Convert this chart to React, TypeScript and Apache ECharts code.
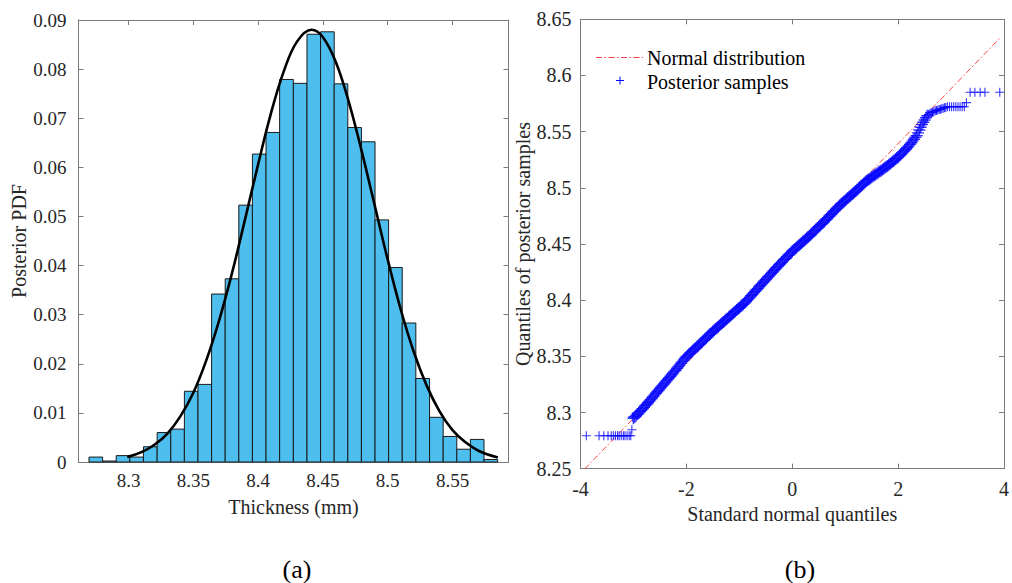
import React, { useEffect, useRef } from "react";
import * as echarts from "echarts";

// ---------- Panel (a): histogram of posterior samples ----------
const binEdges = [
  8.2695, 8.28, 8.2905, 8.301, 8.3115, 8.3221, 8.3326, 8.3431, 8.3536, 8.3641,
  8.3746, 8.3851, 8.3956, 8.4061, 8.4166, 8.4272, 8.4377, 8.4482, 8.4587, 8.4692,
  8.4797, 8.4902, 8.5007, 8.5112, 8.5217, 8.5323, 8.5428, 8.5533, 8.5638, 8.5743,
  8.5848,
];
const binValues = [
  0.001, 0.0002, 0.0013, 0.001, 0.0031, 0.006, 0.0067, 0.0144, 0.0158, 0.0342,
  0.0373, 0.0523, 0.0627, 0.0671, 0.0779, 0.0771, 0.0871, 0.0876, 0.077, 0.0681,
  0.0652, 0.0493, 0.0396, 0.0283, 0.017, 0.0091, 0.0052, 0.0026, 0.0046, 0.0005,
];
const fitX = [
  8.299, 8.31, 8.32, 8.33, 8.34, 8.35, 8.36, 8.37, 8.38, 8.39, 8.4, 8.41, 8.42,
  8.43, 8.4412, 8.45, 8.46, 8.47, 8.48, 8.49, 8.5, 8.51, 8.52, 8.53, 8.54, 8.55,
  8.56, 8.57, 8.585,
];
const fitY = [
  0.001, 0.002, 0.0035, 0.0058, 0.0093, 0.0141, 0.0207, 0.0289, 0.0386, 0.0495,
  0.0606, 0.0711, 0.0797, 0.0856, 0.088, 0.0865, 0.0814, 0.0733, 0.0632, 0.0522,
  0.0412, 0.0311, 0.0225, 0.0156, 0.0103, 0.0065, 0.004, 0.0023, 0.0009,
];
const histXTicks = [8.3, 8.35, 8.4, 8.45, 8.5, 8.55];

// ---------- Panel (b): QQ plot, [standard normal quantile, sample quantile] ----------
const qqLowTail = [
  [-3.89, 8.2793], [-3.65, 8.2793], [-3.56, 8.2793], [-3.48, 8.2793], [-3.42, 8.2793],
  [-3.38, 8.2793], [-3.34, 8.2793], [-3.3, 8.2793], [-3.27, 8.2793], [-3.23, 8.2793],
  [-3.19, 8.2793], [-3.16, 8.2793], [-3.12, 8.2793], [-3.08, 8.2793], [-3.05, 8.2793],
  [-3.03, 8.2846], [-3.02, 8.296],
];
const qqBody = [
  [-3.0, 8.2948], [-2.975, 8.296], [-2.95, 8.2972], [-2.925, 8.2985], [-2.9, 8.2997],
  [-2.875, 8.3009], [-2.85, 8.3021], [-2.825, 8.3034], [-2.8, 8.3046], [-2.775, 8.306],
  [-2.75, 8.3073], [-2.725, 8.3087], [-2.7, 8.3101], [-2.675, 8.3115], [-2.65, 8.3129],
  [-2.625, 8.3143], [-2.6, 8.3157], [-2.575, 8.3171], [-2.55, 8.3185], [-2.525, 8.3199],
  [-2.5, 8.3213], [-2.475, 8.3227], [-2.45, 8.324], [-2.425, 8.3254], [-2.4, 8.3268],
  [-2.375, 8.3282], [-2.35, 8.3296], [-2.325, 8.331], [-2.3, 8.3323], [-2.275, 8.3338],
  [-2.25, 8.3352], [-2.225, 8.3366], [-2.2, 8.3379], [-2.175, 8.3394], [-2.15, 8.3409],
  [-2.125, 8.3424], [-2.1, 8.3438], [-2.075, 8.3453], [-2.05, 8.3468], [-2.025, 8.3483],
  [-2.0, 8.3497], [-1.975, 8.3508], [-1.95, 8.3519], [-1.925, 8.353], [-1.9, 8.3541],
  [-1.875, 8.3552], [-1.85, 8.3563], [-1.825, 8.3574], [-1.8, 8.3585], [-1.775, 8.3596],
  [-1.75, 8.3607], [-1.725, 8.3619], [-1.7, 8.3631], [-1.675, 8.3642], [-1.65, 8.3653],
  [-1.625, 8.3665], [-1.6, 8.3676], [-1.575, 8.3688], [-1.55, 8.3699], [-1.525, 8.3711],
  [-1.5, 8.3722], [-1.475, 8.3733], [-1.45, 8.3743], [-1.425, 8.3753], [-1.4, 8.3763],
  [-1.375, 8.3774], [-1.35, 8.3785], [-1.325, 8.3796], [-1.3, 8.3806], [-1.275, 8.3817],
  [-1.25, 8.3827], [-1.225, 8.3838], [-1.2, 8.3848], [-1.175, 8.3859], [-1.15, 8.387],
  [-1.125, 8.388], [-1.1, 8.389], [-1.075, 8.3901], [-1.05, 8.3912], [-1.025, 8.3923],
  [-1.0, 8.3933], [-0.975, 8.3943], [-0.95, 8.3953], [-0.925, 8.3964], [-0.9, 8.3975],
  [-0.875, 8.3988], [-0.85, 8.4001], [-0.825, 8.4014], [-0.8, 8.4027], [-0.775, 8.404],
  [-0.75, 8.4053], [-0.725, 8.4067], [-0.7, 8.408], [-0.675, 8.4093], [-0.65, 8.4105],
  [-0.625, 8.4119], [-0.6, 8.4132], [-0.575, 8.4145], [-0.55, 8.4158], [-0.525, 8.4171],
  [-0.5, 8.4184], [-0.475, 8.4197], [-0.45, 8.421], [-0.425, 8.4223], [-0.4, 8.4236],
  [-0.375, 8.4249], [-0.35, 8.4262], [-0.325, 8.4275], [-0.3, 8.4288], [-0.275, 8.4301],
  [-0.25, 8.4313], [-0.225, 8.4325], [-0.2, 8.4337], [-0.175, 8.435], [-0.15, 8.4362],
  [-0.125, 8.4374], [-0.1, 8.4386], [-0.075, 8.4399], [-0.05, 8.4411], [-0.025, 8.4423],
  [0.0, 8.4435], [0.025, 8.4446], [0.05, 8.4456], [0.075, 8.4467], [0.1, 8.4477],
  [0.125, 8.4488], [0.15, 8.4498], [0.175, 8.4509], [0.2, 8.452], [0.225, 8.453],
  [0.25, 8.454], [0.275, 8.4551], [0.3, 8.4562], [0.325, 8.4573], [0.35, 8.4584],
  [0.375, 8.4596], [0.4, 8.4608], [0.425, 8.4619], [0.45, 8.463], [0.475, 8.4642],
  [0.5, 8.4653], [0.525, 8.4665], [0.55, 8.4676], [0.575, 8.4687], [0.6, 8.4698],
  [0.625, 8.4711], [0.65, 8.4723], [0.675, 8.4735], [0.7, 8.4747], [0.725, 8.476],
  [0.75, 8.4772], [0.775, 8.4784], [0.8, 8.4796], [0.825, 8.4809], [0.85, 8.4821],
  [0.875, 8.4833], [0.9, 8.4845], [0.925, 8.4856], [0.95, 8.4867], [0.975, 8.4877],
  [1.0, 8.4887], [1.025, 8.4898], [1.05, 8.4909], [1.075, 8.492], [1.1, 8.493],
  [1.125, 8.494], [1.15, 8.495], [1.175, 8.4961], [1.2, 8.4972], [1.225, 8.4983],
  [1.25, 8.4994], [1.275, 8.5005], [1.3, 8.5016], [1.325, 8.5027], [1.35, 8.5038],
  [1.375, 8.5049], [1.4, 8.506], [1.425, 8.5069], [1.45, 8.5077], [1.475, 8.5086],
  [1.5, 8.5094], [1.525, 8.5103], [1.55, 8.5111], [1.575, 8.5119], [1.6, 8.5127],
  [1.625, 8.5136], [1.65, 8.5145], [1.675, 8.5153], [1.7, 8.5161], [1.725, 8.517],
  [1.75, 8.5179], [1.775, 8.5187], [1.8, 8.5195], [1.825, 8.5205], [1.85, 8.5215],
  [1.875, 8.5225], [1.9, 8.5234], [1.925, 8.5244], [1.95, 8.5254], [1.975, 8.5264],
  [2.0, 8.5273], [2.025, 8.5285], [2.05, 8.5297], [2.075, 8.531], [2.1, 8.5322],
  [2.125, 8.5334], [2.15, 8.5346], [2.175, 8.5359], [2.2, 8.5371], [2.225, 8.5387],
  [2.25, 8.5402], [2.275, 8.5418], [2.3, 8.5433], [2.325, 8.5449], [2.35, 8.5464],
  [2.375, 8.5489], [2.4, 8.5514], [2.425, 8.5539], [2.45, 8.5563], [2.475, 8.5583],
  [2.5, 8.5603], [2.525, 8.5623], [2.55, 8.5642],
];
const qqHighTail = [
  [2.575, 8.5653], [2.6, 8.5664], [2.625, 8.5668], [2.65, 8.5672], [2.675, 8.5678],
  [2.7, 8.5685], [2.725, 8.5689], [2.75, 8.5693], [2.775, 8.5697], [2.8, 8.57],
  [2.825, 8.5704], [2.85, 8.5708], [2.875, 8.5712], [2.9, 8.5716], [2.93, 8.5722],
  [2.97, 8.5722], [3.01, 8.5722], [3.05, 8.5722], [3.09, 8.5722], [3.13, 8.5722],
  [3.17, 8.5722], [3.21, 8.5722], [3.25, 8.5722], [3.29, 8.5758], [3.36, 8.585],
  [3.45, 8.585], [3.55, 8.585], [3.64, 8.585], [3.92, 8.585],
];
const refLineX = [-3.92, 3.94];
const refLineY = [8.2498, 8.6342];

const FONT = "Liberation Serif, Times New Roman, serif";
const AX = "#7a7a7a";
const TXT = "#262626";
const RED = "#FF4040";
const PLUS = "path://M4.4,0h1.2v4.4h4.4v1.2h-4.4v4.4h-1.2v-4.4h-4.4v-1.2h4.4z";

const fmt = (v: number) => String(+Number(v).toFixed(4));

export default function App() {
  const ref = useRef<HTMLDivElement>(null);
  useEffect(() => {
    if (!ref.current) return;
    const chart = echarts.init(ref.current, null, { renderer: "svg" });
    const boxAxis = (extra: any) => ({
      axisLine: { show: true, onZero: false, lineStyle: { color: AX, width: 1 } },
      axisTick: { show: true, inside: true, length: 5, lineStyle: { color: AX } },
      splitLine: { show: false },
      ...extra,
    });
    const qqAll = [
      ...qqLowTail.map((p) => ({ value: p, symbolSize: 9 })),
      ...qqBody.map((p) => ({ value: p, symbolSize: 12 })),
      ...qqHighTail.map((p) => ({ value: p, symbolSize: 9 })),
    ];
    const option: any = {
      animation: false,
      grid: [
        { left: 78.5, right: 503.5, top: 20, bottom: 121 },
        { left: 580.5, right: 0.5, top: 19.3, bottom: 114.3 },
      ],
      xAxis: [
        boxAxis({
          type: "value", gridIndex: 0, position: "bottom", min: 8.2614, max: 8.5932,
          axisTick: { show: true, inside: true, length: 5, lineStyle: { color: AX }, customValues: histXTicks },
          axisLabel: { customValues: histXTicks, formatter: fmt, color: TXT, fontFamily: FONT, fontSize: 19, margin: 9 },
          name: "Thickness (mm)", nameLocation: "middle", nameGap: 35,
          nameTextStyle: { color: TXT, fontFamily: FONT, fontSize: 20 },
        }),
        boxAxis({
          type: "value", gridIndex: 0, position: "top", min: 8.2614, max: 8.5932,
          axisTick: { show: true, inside: true, length: 5, lineStyle: { color: AX }, customValues: histXTicks },
          axisLabel: { show: false, customValues: histXTicks },
        }),
        boxAxis({
          type: "value", gridIndex: 1, position: "bottom", min: -4, max: 4, interval: 2,
          axisLabel: { color: TXT, fontFamily: FONT, fontSize: 20, margin: 10 },
          name: "Standard normal quantiles", nameLocation: "middle", nameGap: 33,
          nameTextStyle: { color: TXT, fontFamily: FONT, fontSize: 20 },
        }),
        boxAxis({
          type: "value", gridIndex: 1, position: "top", min: -4, max: 4, interval: 2,
          axisLabel: { show: false },
        }),
      ],
      yAxis: [
        boxAxis({
          type: "value", gridIndex: 0, position: "left", min: 0, max: 0.09, interval: 0.01,
          axisLabel: { formatter: fmt, color: TXT, fontFamily: FONT, fontSize: 19, margin: 12 },
          name: "Posterior PDF", nameLocation: "middle", nameGap: 46,
          nameTextStyle: { color: TXT, fontFamily: FONT, fontSize: 20 },
        }),
        boxAxis({
          type: "value", gridIndex: 0, position: "right", min: 0, max: 0.09, interval: 0.01,
          axisLabel: { show: false },
        }),
        boxAxis({
          type: "value", gridIndex: 1, position: "left", min: 8.25, max: 8.65, interval: 0.05,
          axisLabel: { formatter: fmt, color: TXT, fontFamily: FONT, fontSize: 20, margin: 9 },
          name: "Quantiles of posterior samples", nameLocation: "middle", nameGap: 48,
          nameTextStyle: { color: TXT, fontFamily: FONT, fontSize: 20 },
        }),
        boxAxis({
          type: "value", gridIndex: 1, position: "right", min: 8.25, max: 8.65, interval: 0.05,
          axisLabel: { show: false },
        }),
      ],
      series: [
        {
          type: "custom",
          name: "Histogram",
          xAxisIndex: 0,
          yAxisIndex: 0,
          data: binValues.map((v, i) => [binEdges[i], binEdges[i + 1], v]),
          encode: { x: [0, 1], y: 2 },
          renderItem: (params: any, api: any) => {
            const p0 = api.coord([api.value(0), api.value(2)]);
            const p1 = api.coord([api.value(1), 0]);
            return {
              type: "rect",
              shape: { x: p0[0], y: p0[1], width: p1[0] - p0[0], height: p1[1] - p0[1] },
              style: { fill: "#4DBEEE", stroke: "#1a1a1a", lineWidth: 1 },
            };
          },
          z: 1,
        },
        {
          type: "line",
          name: "Normal fit",
          xAxisIndex: 0,
          yAxisIndex: 0,
          data: fitX.map((x, i) => [x, fitY[i]]),
          smooth: 0.4,
          showSymbol: false,
          lineStyle: { color: "#000000", width: 2.6 },
          z: 3,
        },
        {
          type: "line",
          name: "Normal distribution",
          xAxisIndex: 2,
          yAxisIndex: 2,
          data: refLineX.map((x, i) => [x, refLineY[i]]),
          showSymbol: false,
          lineStyle: { color: RED, width: 1, type: [6, 2.5, 1.5, 2.5] },
          z: 1,
        },
        {
          type: "scatter",
          name: "Posterior samples",
          xAxisIndex: 2,
          yAxisIndex: 2,
          data: qqAll,
          symbol: PLUS,
          itemStyle: { color: "#0000FF" },
          z: 2,
        },
      ],
      graphic: [
        {
          type: "line",
          shape: { x1: 596, y1: 57.5, x2: 643, y2: 57.5 },
          style: { stroke: RED, lineWidth: 1, lineDash: [6, 2.5, 1.5, 2.5] },
        },
        {
          type: "text", x: 647, y: 58,
          style: { text: "Normal distribution", fill: "#000", font: `20px ${FONT}`, verticalAlign: "middle" },
        },
        {
          type: "line",
          shape: { x1: 616, y1: 80.5, x2: 624, y2: 80.5 },
          style: { stroke: "#0000FF", lineWidth: 1 },
        },
        {
          type: "line",
          shape: { x1: 620, y1: 76.5, x2: 620, y2: 84.5 },
          style: { stroke: "#0000FF", lineWidth: 1 },
        },
        {
          type: "text", x: 647, y: 82,
          style: { text: "Posterior samples", fill: "#000", font: `20px ${FONT}`, verticalAlign: "middle" },
        },
        {
          type: "text", x: 297, y: 569,
          style: { text: "(a)", fill: "#000", font: `26px ${FONT}`, align: "center", verticalAlign: "middle" },
        },
        {
          type: "text", x: 800, y: 569,
          style: { text: "(b)", fill: "#000", font: `26px ${FONT}`, align: "center", verticalAlign: "middle" },
        },
      ],
    };
    chart.setOption(option);
    return () => chart.dispose();
  }, []);
  return (
    <div
      ref={ref}
      style={{ position: "absolute", left: 0, top: 0, width: 1012, height: 583, background: "#fff" }}
    />
  );
}
